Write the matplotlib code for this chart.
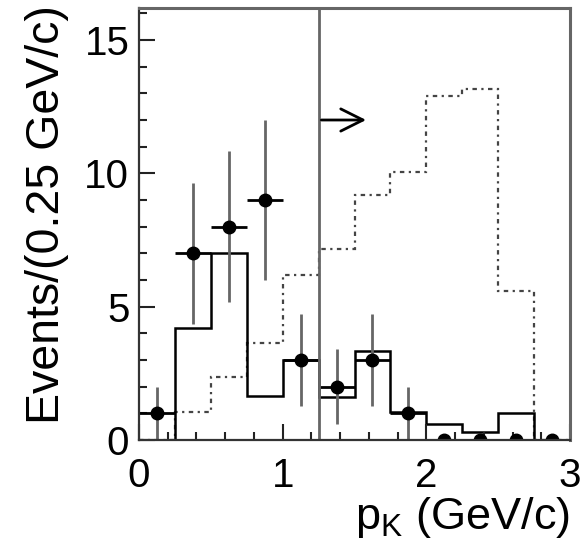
import numpy as np
import matplotlib
matplotlib.use("Agg")
import matplotlib.pyplot as plt

plt.rcParams['font.family'] = ['Liberation Sans', 'DejaVu Sans']
plt.rcParams['mathtext.fontset'] = 'custom'
plt.rcParams['mathtext.rm'] = 'Liberation Sans'
plt.rcParams['mathtext.it'] = 'Liberation Sans'

# Data
bin_edges = np.arange(0, 3.0001, 0.25)
data_x = [0.125, 0.375, 0.625, 0.875, 1.125, 1.375, 1.625, 1.875, 2.125, 2.375, 2.625, 2.875]
data_y = [1, 7, 8, 9, 3, 2, 3, 1, 0, 0, 0, 0]
solid_hist = [0, 4.2, 7.0, 1.65, 3.0, 1.6, 3.35, 1.05, 0.6, 0.3, 1.0, 0]
dotted_hist = [0, 1.05, 2.35, 3.65, 6.2, 7.15, 9.2, 10.05, 12.9, 13.15, 5.6, 0]
cut_value = 1.25
arrow_end = 1.6
arrow_y = 12
x_ticks = [0, 1, 2, 3]
y_ticks = [0, 5, 10, 15]

fig = plt.figure(figsize=(5.81, 5.41), dpi=100)
ax = fig.add_axes([139/581, 1-440/541, (570-139)/581, (440-8)/541])

ax.stairs(dotted_hist, bin_edges, color='#444444', lw=1.6,
          linestyle=(0, (2, 2, 1, 2)), baseline=None)
ax.stairs(solid_hist, bin_edges, color='black', lw=1.8, baseline=0)

yerr = np.sqrt(np.array(data_y, dtype=float))
ax.errorbar(data_x, data_y, yerr=yerr, fmt='none', ecolor='#666666', elinewidth=2, capsize=0)
ax.errorbar(data_x, data_y, xerr=0.125, fmt='o', color='black', ms=9,
            ecolor='black', elinewidth=2, capsize=0)

ax.axvline(cut_value, color='#666666', lw=2)
ax.annotate('', xy=(arrow_end, arrow_y), xytext=(cut_value, arrow_y),
            arrowprops=dict(arrowstyle='->', lw=2, color='black', mutation_scale=40))

ax.set_xlim(0, 3)
ax.set_ylim(0, 16.2)
ax.set_xticks(x_ticks)
ax.set_yticks(y_ticks)
ax.set_xticks(np.arange(0, 3.01, 0.2), minor=True)
ax.set_yticks(np.arange(0, 16.1, 1), minor=True)
ax.tick_params(which='both', direction='in', top=False, right=False, width=1.5, color='#222222')
ax.tick_params(which='major', length=11.5, labelsize=29)
ax.tick_params(which='minor', length=5.5)
ax.tick_params(axis='x', which='major', pad=12)
ax.tick_params(axis='y', which='major', pad=7)

for s in ['left', 'bottom']:
    ax.spines[s].set_color('#333333')
    ax.spines[s].set_linewidth(1.6)
for s in ['top', 'right']:
    ax.spines[s].set_color('#666666')
    ax.spines[s].set_linewidth(2.2)

ax.set_ylabel('Events/(0.25 GeV/c)', fontsize=33.5)
ax.yaxis.set_label_coords(-0.163, 0.522)
ax.set_xlabel(r'p$_{\mathrm{K}}$ (GeV/c)', fontsize=32.5, loc='right', labelpad=0)

fig.savefig('out.png', dpi=100, facecolor='white')
